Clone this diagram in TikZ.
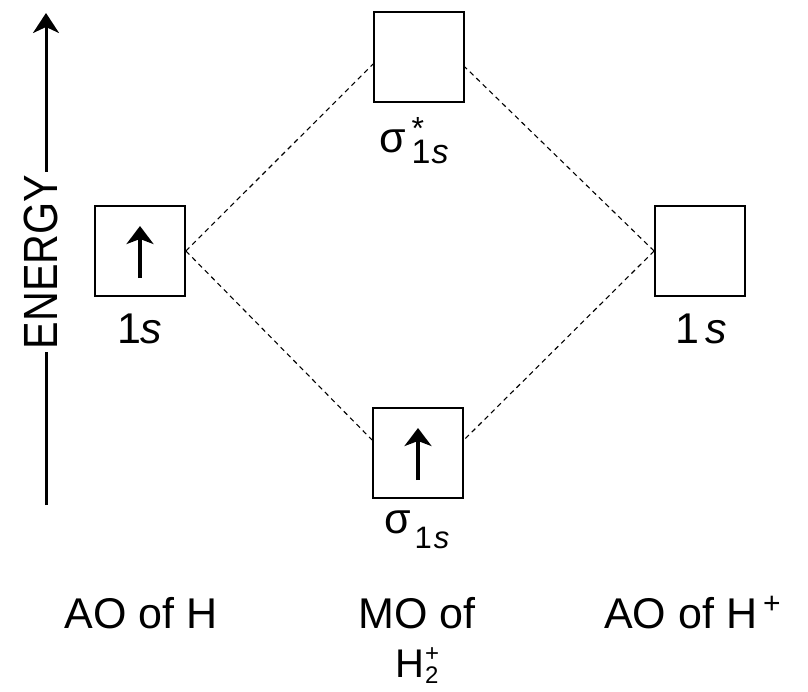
\documentclass[tikz,border=0pt]{standalone}
\usepackage{fontspec}
\setmainfont{Liberation Sans}
\newfontfamily\axisfont[FakeStretch=0.86]{Liberation Sans}
\usetikzlibrary{arrows.meta, positioning}

\tikzset{
  orbital/.style={draw, line width=1.8pt, minimum size=90pt, inner sep=0pt},
  spinup/.style={-{Stealth[length=18pt,width=27pt,inset=5pt]}, line width=4.5pt},
  mixline/.style={line width=1.1pt, dash pattern=on 5pt off 4pt},
  lbl/.style={font=\fontsize{43}{46}\selectfont, inner sep=0pt},
}
\newcommand{\subfs}[1]{\fontsize{#1}{#1}\selectfont}

\begin{document}
\begin{tikzpicture}[x=1pt, y=-1pt]
  \useasboundingbox (0,0) rectangle (808,691);

  % energy axis
  \node[font=\axisfont\fontsize{48}{48}\selectfont, rotate=90, anchor=base, inner sep=3pt] (energy) at (57,262) {ENERGY};
  \coordinate (ebot) at (46,505);
  \coordinate (etop) at (46,13);
  \draw[line width=3pt] (ebot) -- (ebot |- energy.west);
  \draw[line width=3pt, -{Stealth[length=20pt,width=26pt,inset=6pt]}] (ebot |- energy.east) -- (etop);

  % orbitals
  \node[orbital] (aoH) at (140,251) {};
  \node[orbital] (aoHp) at (700,251) {};
  \node[orbital] (anti) at (419,57) {};
  \node[orbital] (bond) at (418,453) {};

  % electrons
  \draw[spinup] ([yshift=-27pt]aoH.center) -- ([yshift=25pt]aoH.center);
  \draw[spinup] ([yshift=-27pt]bond.center) -- ([yshift=25pt]bond.center);

  % correlation lines
  \draw[mixline] (aoH.east) -- ([yshift=-7pt]anti.west);
  \draw[mixline] (aoH.east) -- ([yshift=13pt]bond.west);
  \draw[mixline] (aoHp.west) -- ([yshift=-10pt]anti.east);
  \draw[mixline] (aoHp.west) -- ([yshift=13pt]bond.east);

  % orbital labels
  \node[lbl, anchor=base] (lblH) at (140,343) {1\kern-1pt\textit{s}};
  \node[lbl, anchor=base] (lblHp) at (701,343) {1\kern6pt\textit{s}};
  \node[lbl, anchor=base west] (lblanti) at (379,152)
    {σ\kern6pt\rlap{\raisebox{13pt}{\subfs{32}*}}\raisebox{-11pt}{\subfs{34}1\kern1pt\textit{s}}};
  \node[lbl, anchor=base west] (lblbond) at (384,533)
    {σ\kern4pt\raisebox{-15pt}{\subfs{31}1\kern2pt\textit{s}}};

  % column titles
  \node[lbl, anchor=base] (colH) at (141,628) {AO of H};
  \node[lbl, anchor=base] (colMO) at (417,628) {MO of};
  \node[lbl, anchor=base west, font=\fontsize{40}{44}\selectfont] (colMO2) at (395,677)
    {H\kern1pt\rlap{\raisebox{16pt}{\subfs{24}+}}\raisebox{-6pt}{\subfs{24}2}};
  \node[lbl, anchor=base west] (colHp) at (604,628) {AO of H\kern6pt\raisebox{15pt}{\subfs{30}+}};
\end{tikzpicture}
\end{document}
